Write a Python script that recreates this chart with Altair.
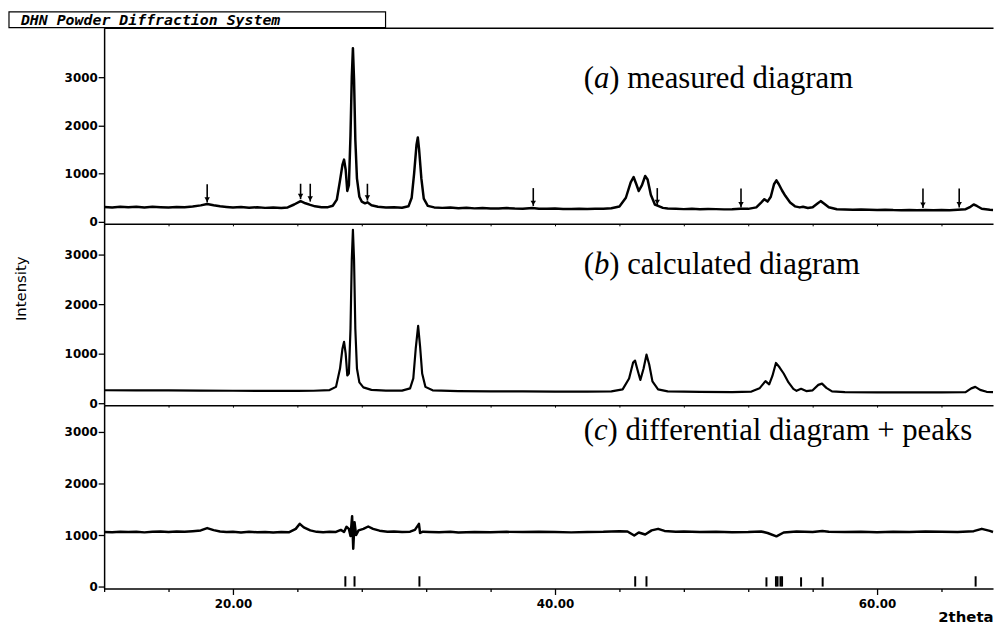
import altair as alt
import pandas as pd

# ---------------- data ----------------
# (a) measured diagram
meas_2theta = [12.0, 12.5, 13.0, 13.5, 14.0, 14.5, 15.0, 15.5, 16.0, 16.5, 17.0, 17.5, 18.0, 18.4, 18.8,
               19.2, 19.6, 20.0, 20.5, 21.0, 21.5, 22.0, 22.5, 23.0, 23.4, 23.8, 24.2, 24.5, 24.8, 25.1,
               25.5, 25.9, 26.2, 26.45, 26.65, 26.8, 26.9, 27.0, 27.1, 27.2, 27.3, 27.38, 27.45, 27.52,
               27.6, 27.7, 27.85, 28.0, 28.2, 28.35, 28.6, 29.0, 29.5, 30.0, 30.5, 30.9, 31.1, 31.25,
               31.4, 31.48, 31.56, 31.7, 31.85, 32.1, 32.5, 33.0, 33.5, 34.0, 34.5, 35.0, 35.5, 36.0,
               36.5, 37.0, 37.5, 38.0, 38.6, 39.0, 39.5, 40.0, 40.5, 41.0, 41.5, 42.0, 42.5, 43.0, 43.5,
               44.0, 44.4, 44.7, 44.88, 45.05, 45.2, 45.4, 45.6, 45.75, 45.95, 46.2, 46.4, 46.7, 47.0,
               47.5, 48.0, 48.5, 49.0, 49.5, 50.0, 50.5, 51.0, 51.5, 52.0, 52.5, 52.8, 53.0, 53.2, 53.4,
               53.6, 53.75, 53.9, 54.1, 54.3, 54.6, 54.9, 55.2, 55.4, 55.7, 56.0, 56.3, 56.5, 56.7, 57.0,
               57.5, 58.0, 58.5, 59.0, 59.5, 60.0, 60.5, 61.0, 61.5, 62.0, 62.5, 63.0, 63.5, 64.0, 64.5,
               65.0, 65.5, 65.8, 66.0, 66.2, 66.5, 67.0, 67.2]
meas_int = [310, 300, 315, 305, 312, 300, 312, 304, 298, 310, 304, 318, 342, 372, 345,
            322, 310, 300, 306, 294, 302, 290, 296, 286, 300, 360, 430, 385, 352, 322,
            302, 305, 335, 460, 860, 1180, 1290, 1080, 640, 760, 1800, 3000, 3600, 2950,
            1700, 900, 520, 420, 385, 405, 345, 312, 296, 302, 294, 322, 500, 1000,
            1600, 1750, 1500, 900, 480, 332, 300, 290, 296, 284, 292, 280, 286, 278,
            276, 286, 278, 274, 286, 274, 270, 276, 268, 266, 273, 267, 271, 274, 282,
            320, 500, 820, 930, 780, 640, 760, 950, 880, 560, 360, 332, 290, 276,
            270, 264, 271, 262, 268, 264, 259, 262, 271, 270, 300, 400, 470, 420, 520,
            780, 860, 780, 650, 540, 400, 322, 300, 312, 286, 302, 380, 430, 382, 302,
            262, 256, 250, 255, 249, 246, 251, 244, 241, 246, 240, 245, 240, 244, 240,
            250, 262, 312, 360, 330, 272, 250, 246]

# (b) calculated diagram
calc_2theta = [12.0, 14.0, 16.0, 18.0, 20.0, 22.0, 24.0, 25.0, 26.0, 26.4, 26.65, 26.8, 26.9, 27.0,
               27.1, 27.2, 27.3, 27.38, 27.45, 27.52, 27.6, 27.7, 27.85, 28.1, 28.6, 29.5, 30.5, 31.0,
               31.2, 31.35, 31.5, 31.62, 31.75, 31.95, 32.4, 34.0, 36.0, 38.0, 40.0, 42.0, 43.5, 44.2,
               44.6, 44.85, 44.97, 45.1, 45.3, 45.5, 45.68, 45.85, 46.05, 46.4, 47.0, 49.0, 51.0, 52.2,
               52.7, 53.07, 53.3, 53.5, 53.72, 53.95, 54.2, 54.5, 54.8, 55.0, 55.28, 55.6, 56.0, 56.35,
               56.58, 56.85, 57.2, 58.0, 60.0, 62.0, 64.0, 65.5, 65.85, 66.1, 66.4, 66.8, 67.2]
calc_int = [262, 260, 258, 255, 252, 250, 250, 252, 265, 330, 700, 1100, 1240, 1000,
            560, 600, 1500, 2900, 3500, 2900, 1500, 700, 420, 320, 270, 255, 255, 300,
            500, 1100, 1560, 1150, 600, 330, 260, 245, 240, 238, 235, 235, 240, 280,
            500, 820, 860, 700, 470, 700, 980, 780, 440, 280, 240, 230, 225, 235,
            300, 447, 380, 550, 813, 720, 600, 420, 290, 250, 290, 245, 260, 370,
            395, 310, 240, 225, 220, 218, 218, 225, 300, 330, 270, 230, 225]

# (c) differential diagram
diff_2theta = [12.0, 12.5, 13.0, 13.5, 14.0, 14.5, 15.0, 15.5, 16.0, 16.5, 17.0, 17.5, 18.0, 18.4,
               18.8, 19.2, 19.6, 20.0, 20.5, 21.0, 21.5, 22.0, 22.5, 23.0, 23.5, 23.9, 24.15, 24.4,
               24.8, 25.2, 25.6, 26.0, 26.4, 26.7, 26.9, 27.05, 27.2, 27.3, 27.4, 27.47, 27.55, 27.65,
               27.8, 28.1, 28.4, 28.7, 29.1, 29.6, 30.0, 30.5, 31.0, 31.3, 31.55, 31.62, 31.8, 32.2,
               32.8, 33.5, 34.0, 35.0, 36.0, 37.0, 38.0, 39.0, 40.0, 41.0, 42.0, 43.0, 44.0, 44.5,
               44.92, 45.2, 45.6, 46.0, 46.4, 46.8, 47.5, 48.0, 49.0, 50.0, 51.0, 52.0, 52.8, 53.2,
               53.75, 54.2, 55.0, 56.0, 56.6, 57.0, 58.0, 59.0, 60.0, 61.0, 62.0, 63.0, 64.0, 65.0,
               66.0, 66.5, 67.0, 67.2]
diff_int = [1060, 1055, 1065, 1058, 1066, 1052, 1064, 1070, 1060, 1068, 1062, 1075, 1090, 1135,
            1095, 1070, 1060, 1065, 1050, 1062, 1055, 1060, 1050, 1058, 1055, 1120, 1218, 1150,
            1090, 1062, 1055, 1065, 1060, 1100, 1060, 1160, 1120, 980, 1367, 735, 1250, 1000,
            1090, 1120, 1166, 1120, 1085, 1065, 1070, 1060, 1065, 1100, 1218, 1040, 1065, 1060,
            1055, 1062, 1050, 1060, 1055, 1062, 1058, 1065, 1060, 1052, 1060, 1064, 1075, 1070,
            990, 1050, 1010, 1090, 1120, 1080, 1065, 1070, 1060, 1065, 1055, 1060, 1070, 1040,
            975, 1050, 1068, 1060, 1080, 1065, 1060, 1062, 1055, 1065, 1060, 1070, 1065, 1060,
            1075, 1120, 1080, 1060]

# arrows in (a)
arrow_2theta = [18.4, 24.2, 24.8, 28.35, 38.65, 46.35, 51.55, 62.85, 65.1]
arrow_top = [780, 790, 790, 790, 700, 700, 690, 690, 690]
arrow_tip = [400, 470, 420, 440, 330, 350, 300, 290, 300]

# reflection markers in (c)
peak_2theta = [26.98, 27.55, 31.58, 44.98, 45.68, 53.13, 53.72, 53.82, 54.0, 54.1, 55.28, 56.62, 66.12]
peak_height = [200, 200, 200, 200, 200, 180, 200, 200, 200, 200, 180, 180, 200]

# panel captions
panel_letter = ["a", "b", "c"]
panel_rest = [") measured diagram", ") calculated diagram", ") differential diagram + peaks"]
panel_text_x = [41.78, 41.78, 41.78]
panel_text_y = [2780, 2600, 2850]

y_ticks = [0, 1000, 2000, 3000]
x_ticks = [12, 14, 16, 18, 20, 22, 24, 26, 28, 30, 32, 34, 36, 38, 40, 42, 44, 46, 48, 50,
           52, 54, 56, 58, 60, 62, 64, 66]

header_text = "DHN Powder Diffraction System"
y_title = "Intensity"
x_title = "2theta"

# ---------------- layout / style ----------------
W = 897
X_DOMAIN = [12, 67.2]
TICK_FONT = "DejaVu Sans"
SERIF = "Liberation Serif"
CAP_SIZE = 31

meas_df = pd.DataFrame({"t": meas_2theta, "i": meas_int})
calc_df = pd.DataFrame({"t": calc_2theta, "i": calc_int})
diff_df = pd.DataFrame({"t": diff_2theta, "i": diff_int})
arrow_df = pd.DataFrame({"t": arrow_2theta, "top": arrow_top, "tip": arrow_tip})
peak_df = pd.DataFrame({"t": peak_2theta, "h": peak_height, "z": [0] * len(peak_2theta)})
cap_df = pd.DataFrame({"t": panel_text_x, "y": panel_text_y, "letter": panel_letter,
                       "rest": panel_rest})

xscale = alt.Scale(domain=X_DOMAIN, nice=False, zero=False)


def x_axis(labels):
    if labels:
        return alt.Axis(values=x_ticks,
                        labelExpr="datum.value % 10 === 0 ? format(datum.value, '.2f') : ''",
                        labelFont=TICK_FONT, labelFontWeight="bold", labelFontSize=12,
                        labelColor="black", labelPadding=4,
                        tickColor="black", tickWidth=1.3,
                        tickSize={"condition": {"test": "datum.value % 10 === 0", "value": 6}, "value": 3},
                        domainColor="black", domainWidth=1.5, grid=False,
                        title=x_title, titleFont=TICK_FONT, titleFontWeight="bold",
                        titleFontSize=15, titleColor="black", titleAnchor="end",
                        titleAlign="right", titleX=W, titleY=28, titleBaseline="middle")
    return alt.Axis(values=x_ticks, labels=False, tickColor="black", tickSize=2, tickWidth=1,
                    domainColor="black", domainWidth=1.5, grid=False, title=None)


def y_axis(title):
    kw = dict(values=y_ticks, format="d", labelFont=TICK_FONT, labelFontWeight="bold",
              labelFontSize=12, labelColor="black", labelPadding=1,
              tickColor="black", tickSize=6, tickWidth=1.3,
              domainColor="black", domainWidth=1.5, grid=False)
    if title:
        return alt.Axis(title=title, titleFont=TICK_FONT, titleFontSize=15,
                        titleFontWeight="normal", titleColor="black",
                        titleX=-84, titleY=65, titleAngle=270, titleAlign="center",
                        titleBaseline="middle", **kw)
    return alt.Axis(title=None, **kw)


def caption_layers(idx, yscale):
    d = cap_df.iloc[[idx]]
    base = alt.Chart(d)
    enc = dict(x=alt.X("t:Q", scale=xscale), y=alt.Y("y:Q", scale=yscale))
    p1 = base.mark_text(align="left", baseline="alphabetic", font=SERIF, fontSize=CAP_SIZE,
                        color="black").encode(text=alt.value("("), **enc)
    p2 = base.mark_text(align="left", baseline="alphabetic", font=SERIF, fontSize=CAP_SIZE,
                        fontStyle="italic", color="black",
                        dx=round(0.333 * CAP_SIZE, 1)).encode(text="letter:N", **enc)
    wletter = 0.444 if panel_letter[idx] == "c" else 0.5
    p3 = base.mark_text(align="left", baseline="alphabetic", font=SERIF, fontSize=CAP_SIZE,
                        color="black",
                        dx=round((0.333 + wletter) * CAP_SIZE, 1)).encode(text="rest:N", **enc)
    return [p1, p2, p3]


# ----- panel (a)
ys_a = alt.Scale(domain=[-41, 4025], nice=False, zero=False)
line_a = alt.Chart(meas_df).mark_line(color="black", strokeWidth=2.5, strokeJoin="round").encode(
    x=alt.X("t:Q", scale=xscale, axis=x_axis(False)),
    y=alt.Y("i:Q", scale=ys_a, axis=y_axis(None)))
head = alt.Chart(arrow_df).mark_point(shape="triangle-down", filled=True, color="black",
                                      size=30, opacity=1, yOffset=-3).encode(
    x=alt.X("t:Q", scale=xscale), y=alt.Y("tip:Q", scale=ys_a))
frame = alt.Chart(pd.DataFrame({"k": [0]})).mark_rect(fillOpacity=0, stroke="black",
                                                       strokeWidth=1.2).encode(
    x=alt.value(-96), x2=alt.value(284), y=alt.value(-16), y2=alt.value(0))
header = alt.Chart(pd.DataFrame({"k": [0]})).mark_text(
    align="left", baseline="middle", font="DejaVu Sans Mono", fontSize=15, fontStyle="italic",
    fontWeight="bold", color="black").encode(
    x=alt.value(-84), y=alt.value(-8), text=alt.value(header_text))
inner_a = alt.layer(line_a, head, frame, header, *caption_layers(0, ys_a))

shaft = alt.Chart(arrow_df).mark_rule(color="black", strokeWidth=1.6).encode(
    x=alt.X("t:Q", scale=xscale, axis=alt.Axis(orient="top", labels=False, ticks=False,
                                                domainColor="black", domainWidth=1.5,
                                                grid=False, title=None)),
    y=alt.Y("top:Q", scale=ys_a), y2="tip:Q")

panel_a = alt.layer(inner_a, shaft).resolve_axis(x="independent").properties(width=W, height=198)

# ----- panel (b)
ys_b = alt.Scale(domain=[-40, 3620], nice=False, zero=False)
line_b = alt.Chart(calc_df).mark_line(color="black", strokeWidth=2.2, strokeJoin="round").encode(
    x=alt.X("t:Q", scale=xscale, axis=x_axis(False)),
    y=alt.Y("i:Q", scale=ys_b, axis=y_axis(y_title)))
panel_b = alt.layer(line_b, *caption_layers(1, ys_b)).properties(width=W, height=183)

# ----- panel (c)
ys_c = alt.Scale(domain=[-38, 3520], nice=False, zero=False)
line_c = alt.Chart(diff_df).mark_line(color="black", strokeWidth=2.5, strokeJoin="round").encode(
    x=alt.X("t:Q", scale=xscale, axis=x_axis(True)),
    y=alt.Y("i:Q", scale=ys_c, axis=y_axis(None)))
marks_c = alt.Chart(peak_df).mark_rule(color="black", strokeWidth=2).encode(
    x=alt.X("t:Q", scale=xscale), y=alt.Y("z:Q", scale=ys_c), y2="h:Q")
panel_c = alt.layer(line_c, marks_c, *caption_layers(2, ys_c)).properties(width=W, height=185)

chart = alt.vconcat(panel_a, panel_b, panel_c, spacing=0, bounds="flush").properties(
    padding=0, background="white").configure_view(stroke=None)

chart.save("out.html", embed_options={"renderer": "svg", "actions": False})
